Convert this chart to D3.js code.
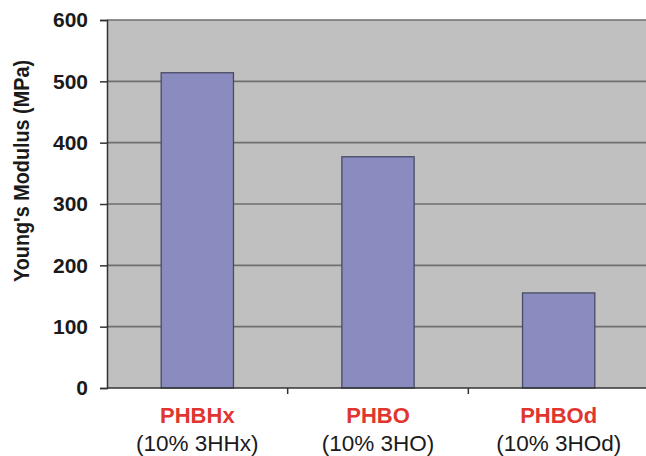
<!DOCTYPE html>
<html>
<head>
<meta charset="utf-8">
<script src="https://cdn.jsdelivr.net/npm/d3@7"></script>
<style>
  html, body { margin: 0; padding: 0; background: #fff; }
  svg { display: block; font-family: "Liberation Sans", Arial, sans-serif; }
</style>
</head>
<body>
<svg id="chart" width="646" height="456"></svg>
<script>
// Young's modulus of PHB copolymers
const materials = ["PHBHx", "PHBO", "PHBOd"];
const compositions = ["(10% 3HHx)", "(10% 3HO)", "(10% 3HOd)"];
const modulus = [514, 377, 155];
const yTicks = [0, 100, 200, 300, 400, 500, 600];

const svg = d3.select("#chart");
const margin = { left: 107, top: 20, right: -3, bottom: 68 };
const W = 646, H = 456;
const innerW = W - margin.left - margin.right;
const innerH = H - margin.top - margin.bottom;

const x = d3.scaleBand().domain(materials).range([0, innerW]).paddingInner(0.6).paddingOuter(0.3);
const y = d3.scaleLinear().domain([0, 600]).range([innerH, 0]);

const g = svg.append("g").attr("transform", `translate(${margin.left},${margin.top})`);

// plot background
g.append("rect").attr("x", 0).attr("y", 0).attr("width", innerW).attr("height", innerH)
  .attr("fill", "#c0c0c0");

// horizontal gridlines
g.selectAll("line.grid").data(yTicks.filter(d => d > 0)).join("line")
  .attr("class", "grid")
  .attr("x1", 0).attr("x2", innerW)
  .attr("y1", d => y(d)).attr("y2", d => y(d))
  .attr("stroke", "#6e6e6e").attr("stroke-width", 1.6);

// bars
g.selectAll("rect.bar").data(modulus).join("rect")
  .attr("class", "bar")
  .attr("x", (d, i) => x(materials[i]))
  .attr("y", d => y(d))
  .attr("width", x.bandwidth())
  .attr("height", d => innerH - y(d))
  .attr("fill", "#8a8cbf")
  .attr("stroke", "#4a4a66").attr("stroke-width", 1.3);

// y axis
const yAxis = g.append("g").call(d3.axisLeft(y).tickValues(yTicks).tickSize(7).tickPadding(12));
yAxis.select(".domain").attr("stroke", "#333").attr("stroke-width", 1.5);
yAxis.selectAll(".tick line").attr("stroke", "#333").attr("stroke-width", 1.5);
yAxis.selectAll(".tick text")
  .attr("font-size", 21).attr("font-weight", "bold").attr("fill", "#1a1a1a")
  .attr("font-family", "Liberation Sans, Arial, sans-serif");

// x axis baseline and category separators
g.append("line").attr("x1", 0).attr("x2", innerW).attr("y1", innerH).attr("y2", innerH)
  .attr("stroke", "#333").attr("stroke-width", 1.5);
const step = x.step();
const boundaries = materials.slice(1).map(m => x(m) - (step - x.bandwidth()) / 2);
g.selectAll("line.sep").data(boundaries).join("line")
  .attr("class", "sep")
  .attr("x1", d => d).attr("x2", d => d)
  .attr("y1", innerH).attr("y2", innerH + 6)
  .attr("stroke", "#333").attr("stroke-width", 1.5);

// category labels
const labels = g.selectAll("g.cat").data(materials).join("g")
  .attr("class", "cat")
  .attr("transform", d => `translate(${x(d) + x.bandwidth() / 2},${innerH})`);
labels.append("text")
  .attr("y", 35).attr("text-anchor", "middle")
  .attr("font-size", 22).attr("font-weight", "bold").attr("fill", "#e0362f")
  .text(d => d);
labels.append("text")
  .attr("y", 63).attr("text-anchor", "middle")
  .attr("font-size", 22.5).attr("fill", "#1a1a1a")
  .text((d, i) => compositions[i]);

// y axis title
svg.append("text")
  .attr("transform", `translate(29,171) rotate(-90)`)
  .attr("text-anchor", "middle")
  .attr("font-size", 21.5).attr("font-weight", "bold").attr("fill", "#1a1a1a")
  .attr("textLength", 222).attr("lengthAdjust", "spacingAndGlyphs")
  .text("Young's Modulus (MPa)");
</script>
</body>
</html>
